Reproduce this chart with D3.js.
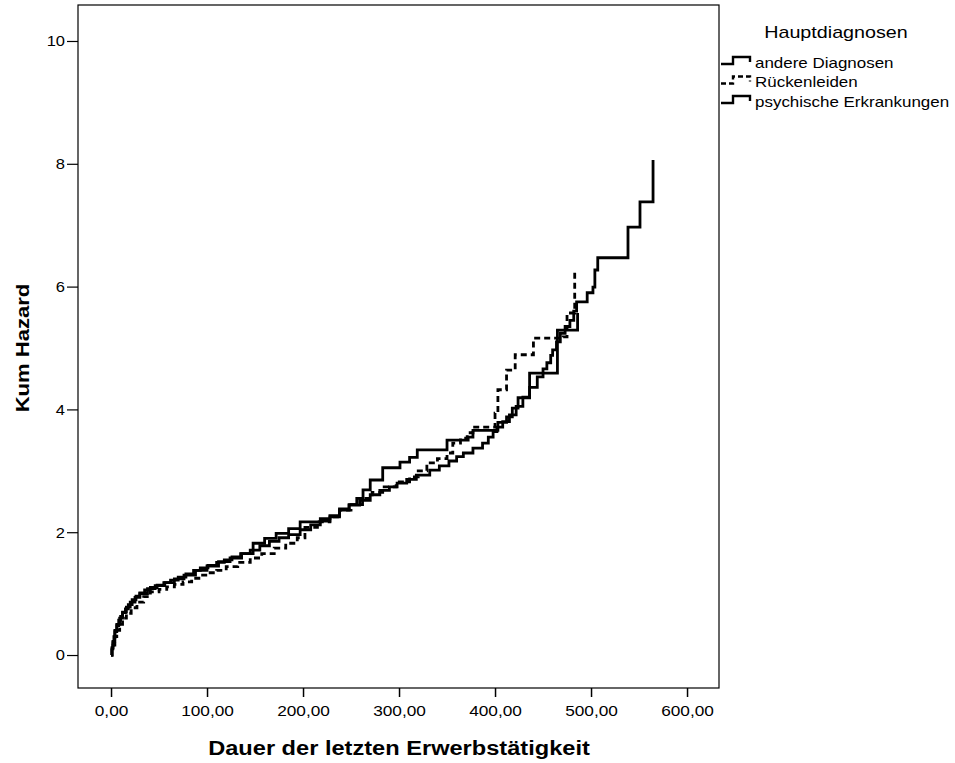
<!DOCTYPE html>
<html><head><meta charset="utf-8">
<script src="https://cdn.jsdelivr.net/npm/d3@7"></script>
<style>body{margin:0;background:#fff}text{font-family:"Liberation Sans",Arial,sans-serif}</style>
</head><body>
<svg id="c" width="955" height="763"></svg>
<script>
const seriesNames = ["andere Diagnosen", "Rückenleiden", "psychische Erkrankungen"];
const xTicks = [0, 100, 200, 300, 400, 500, 600];
const yTicks = [0, 2, 4, 6, 8, 10];
const xTitle = "Dauer der letzten Erwerbstätigkeit";
const yTitle = "Kum Hazard";
const legendTitle = "Hauptdiagnosen";

const andere = [[0,0],[1,0.12],[2,0.22],[4,0.4],[6,0.5],[9,0.6],[12,0.7],[16,0.78],[20,0.86],[25,0.94],[30,1.0],[38,1.08],[46,1.13],[56,1.18],[66,1.24],[76,1.3],[88,1.38],[100,1.45],[112,1.52],[124,1.58],[136,1.65],[148,1.82],[160,1.9],[172,1.98],[185,2.06],[197,2.17],[218,2.22],[228,2.27],[238,2.38],[248,2.45],[256,2.55],[262.5,2.69],[270,2.85],[283,3.05],[301,3.14],[311,3.22],[319,3.34],[350,3.5],[372,3.55],[377,3.66],[403,3.79],[412,3.88],[418,4.02],[424,4.19],[436,4.59],[465,5.29],[486,5.57]];
const ruecken = [[0,0],[1,0.08],[2,0.16],[4,0.3],[6,0.4],[9,0.5],[12,0.6],[16,0.68],[21,0.77],[27,0.86],[34,0.95],[41,1.03],[50,1.07],[58,1.11],[66,1.15],[75,1.19],[84,1.25],[93,1.3],[101,1.34],[110,1.38],[120,1.44],[132,1.51],[145,1.58],[157,1.65],[170,1.74],[182,1.82],[194,1.91],[202,2.08],[215,2.17],[228,2.25],[238,2.36],[250,2.45],[262,2.55],[272,2.65],[283,2.74],[297,2.82],[311,2.9],[320,3.0],[329,3.13],[340,3.2],[350,3.29],[356,3.45],[364,3.53],[371,3.62],[377,3.71],[400,3.94],[403,4.32],[412,4.64],[421,4.89],[440,5.16],[471,5.18],[475,5.57],[483,6.24]];
const psychisch = [[0,0],[1,0.1],[2,0.2],[3,0.3],[4,0.38],[6,0.48],[8,0.57],[10,0.63],[12,0.69],[15,0.75],[18,0.82],[22,0.9],[26,0.96],[30,1.01],[35,1.06],[41,1.1],[48,1.14],[55,1.18],[62,1.22],[70,1.27],[78,1.32],[86,1.38],[93,1.42],[101,1.46],[110,1.51],[118,1.55],[126,1.6],[135,1.65],[145,1.71],[155,1.78],[165,1.85],[175,1.91],[185,1.96],[197,2.04],[208,2.12],[218,2.18],[228,2.25],[238,2.36],[248,2.44],[259,2.52],[270,2.61],[280,2.68],[290,2.74],[298,2.8],[308,2.86],[318,2.93],[332,3.01],[342,3.08],[352,3.16],[360,3.23],[367,3.29],[377,3.37],[387,3.45],[393,3.55],[398,3.64],[402,3.71],[408,3.8],[415,3.91],[422,4.05],[429,4.2],[436,4.36],[444,4.53],[450,4.66],[454,4.76],[458,4.88],[460,4.97],[464,5.1],[468,5.24],[473,5.35],[478,5.45],[482,5.6],[485,5.75],[496,5.9],[502,5.99],[504,6.27],[507,6.47],[538.5,6.97],[551,7.38],[564.6,8.06]];
const seriesData = [andere, ruecken, psychisch];
const dashes = [null, "6,4", null];

const svg = d3.select("#c");
const L = 78, R = 719, T = 5, B = 688;
const x = d3.scaleLinear().domain([-34.4, 633.3]).range([L, R]);
const y = d3.scaleLinear().domain([-0.537, 10.586]).range([B, T]);
const fmt = v => d3.format(".2f")(v).replace(".", ",");

function stretch(sel, k) {
  sel.each(function () {
    const w = this.getComputedTextLength();
    d3.select(this).attr("textLength", w * k).attr("lengthAdjust", "spacingAndGlyphs");
  });
}

svg.append("rect").attr("x", L).attr("y", T).attr("width", R - L).attr("height", B - T)
  .attr("fill", "none").attr("stroke", "#000").attr("stroke-width", 1.2);

const xAxis = svg.append("g").attr("transform", `translate(0,${B})`)
  .call(d3.axisBottom(x).tickValues(xTicks).tickFormat(fmt).tickSize(9).tickPadding(8));
xAxis.select(".domain").remove();
xAxis.selectAll("line").attr("stroke-width", 1.5);
xAxis.selectAll("text").attr("font-size", 15).attr("font-family", "Liberation Sans, Arial").attr("fill", "#000");
stretch(xAxis.selectAll("text"), 1.15);

const yAxis = svg.append("g").attr("transform", `translate(${L},0)`)
  .call(d3.axisLeft(y).tickValues(yTicks).tickSize(11).tickPadding(2));
yAxis.select(".domain").remove();
yAxis.selectAll("line").attr("stroke-width", 1.2);
yAxis.selectAll("text").attr("font-size", 15).attr("font-family", "Liberation Sans, Arial").attr("fill", "#000");
stretch(yAxis.selectAll("text"), 1.1);

const xt = svg.append("text").attr("x", 399).attr("y", 755).attr("text-anchor", "middle")
  .attr("font-size", 20).attr("font-weight", "bold").text(xTitle);
stretch(xt, 1.18);
const yt = svg.append("text").attr("transform", "translate(29,348) rotate(-90)").attr("text-anchor", "middle")
  .attr("font-size", 19).attr("font-weight", "bold").text(yTitle);
stretch(yt, 1.16);

const line = d3.line().x(d => x(d[0])).y(d => y(d[1])).curve(d3.curveStepAfter);
seriesData.forEach((s, i) => {
  svg.append("path").datum(s).attr("d", line).attr("fill", "none").attr("stroke", "#000")
    .attr("stroke-width", 2.8).attr("stroke-dasharray", dashes[i]).attr("stroke-linejoin", "miter");
});

// legend
const lt = svg.append("text").attr("x", 836).attr("y", 38).attr("text-anchor", "middle").attr("font-size", 17).text(legendTitle);
stretch(lt, 1.16);
seriesNames.forEach((n, i) => {
  const yy = 64 + i * 19.5;
  svg.append("path").attr("d", `M721,${yy}H733V${yy - 7}H750V${yy - 2}`)
    .attr("fill", "none").attr("stroke", "#000").attr("stroke-width", 2.4)
    .attr("stroke-dasharray", dashes[i] ? "5,3" : null);
  const t = svg.append("text").attr("x", 755).attr("y", yy + 3.5).attr("font-size", 15).text(n);
  stretch(t, 1.13);
});
</script>
</body></html>
